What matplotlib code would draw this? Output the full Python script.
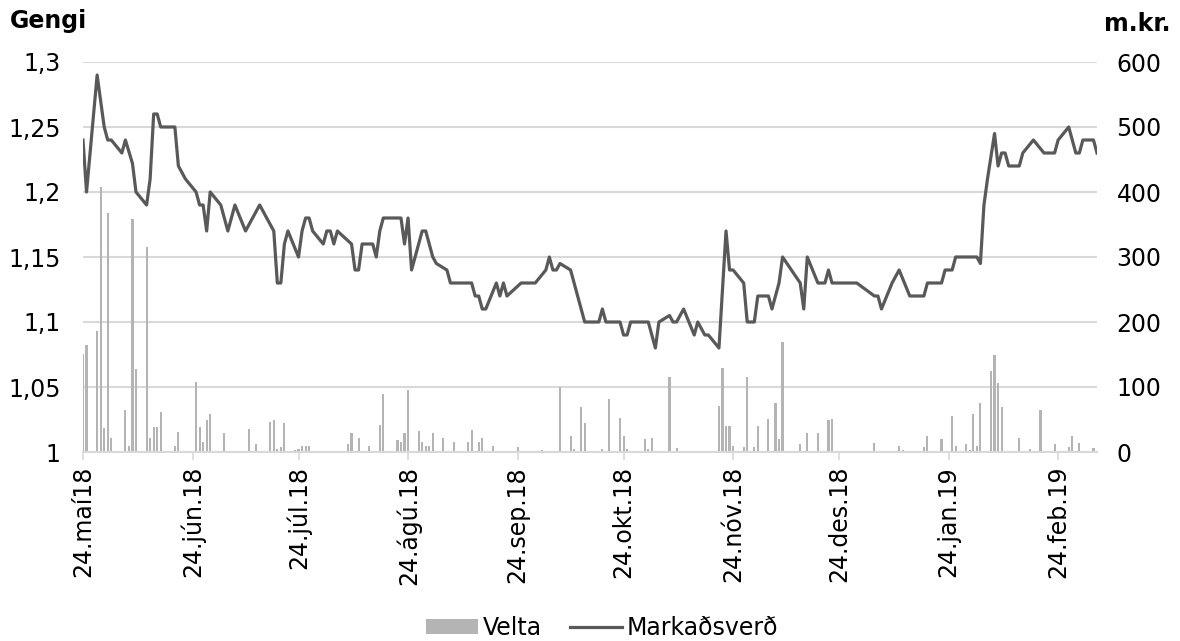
import numpy as np
import pandas as pd
import matplotlib
matplotlib.use("Agg")
import matplotlib.pyplot as plt
from matplotlib.patches import Patch
from matplotlib.lines import Line2D

# ── Data ──────────────────────────────────────────────────────
START = pd.Timestamp("2018-05-24")

# Markaðsverð (gengi), days counted from 24 May 2018
price_days = [0, 1, 4, 6, 7, 8, 11, 12, 14, 15, 18, 19, 20, 21, 22, 26, 27, 29,
              32, 33, 34, 35, 36, 39, 41, 43, 46, 48, 50, 54, 55, 56, 57, 58,
              61, 62, 63, 64, 65, 68, 69, 70, 71, 72, 76, 77, 78, 79, 82, 83,
              84, 85, 90, 91, 92, 93, 96, 97, 99, 100, 103, 104, 110, 111, 112,
              113, 114, 117, 118, 119, 120, 124, 128, 131, 132, 133, 134, 135,
              138, 142, 146, 147, 148, 152, 153, 154, 155, 160, 162, 163, 166,
              167, 168, 170, 173, 174, 176, 177, 180, 182, 183, 184, 187, 188,
              190, 191, 194, 195, 197, 198, 203, 204, 205, 208, 210, 211, 212,
              219, 224, 225, 226, 229, 231, 234, 238, 239, 243, 244, 246, 247,
              253, 254, 255, 256, 258, 259, 260, 261, 262, 265, 266, 269, 272,
              275, 276, 279, 281, 282, 283, 286, 287]
price = [1.24, 1.20, 1.29, 1.25, 1.24, 1.24, 1.23, 1.24, 1.222, 1.20, 1.19, 1.21,
         1.26, 1.26, 1.25, 1.25, 1.22, 1.21, 1.20, 1.19, 1.19, 1.17, 1.20, 1.19,
         1.17, 1.19, 1.17, 1.18, 1.19, 1.17, 1.13, 1.13, 1.16, 1.17, 1.15, 1.17,
         1.18, 1.18, 1.17, 1.16, 1.17, 1.17, 1.16, 1.17, 1.16, 1.14, 1.14, 1.16,
         1.16, 1.15, 1.17, 1.18, 1.18, 1.16, 1.18, 1.14, 1.17, 1.17, 1.15, 1.145,
         1.14, 1.13, 1.13, 1.12, 1.12, 1.11, 1.11, 1.13, 1.12, 1.13, 1.12, 1.13,
         1.13, 1.14, 1.15, 1.14, 1.14, 1.145, 1.14, 1.10, 1.10, 1.11, 1.10, 1.10,
         1.09, 1.09, 1.10, 1.10, 1.08, 1.10, 1.105, 1.10, 1.10, 1.11, 1.09, 1.10,
         1.09, 1.09, 1.08, 1.17, 1.14, 1.14, 1.13, 1.10, 1.10, 1.12, 1.12, 1.11,
         1.13, 1.15, 1.13, 1.11, 1.15, 1.13, 1.13, 1.14, 1.13, 1.13, 1.12, 1.12,
         1.11, 1.13, 1.14, 1.12, 1.12, 1.13, 1.13, 1.14, 1.14, 1.15, 1.15, 1.145,
         1.19, 1.21, 1.245, 1.22, 1.23, 1.23, 1.22, 1.22, 1.23, 1.24, 1.23, 1.23,
         1.24, 1.25, 1.23, 1.23, 1.24, 1.24, 1.23]

# Velta (m.kr.)
vol_days = [0, 1, 4, 5, 6, 7, 8, 11, 12, 13, 14, 15, 18, 19, 20, 21, 22, 25, 26,
            27, 32, 33, 34, 35, 36, 40, 47, 49, 53, 54, 55, 56, 57, 60, 61, 62,
            63, 64, 67, 75, 76, 78, 81, 84, 85, 89, 90, 91, 92, 95, 96, 97, 98,
            99, 102, 105, 109, 110, 112, 113, 116, 123, 130, 135, 138, 139, 141,
            142, 147, 149, 152, 153, 154, 156, 159, 160, 161, 166, 168, 176, 180,
            181, 182, 183, 184, 187, 188, 190, 191, 194, 196, 197, 198, 203, 204,
            205, 208, 209, 211, 212, 224, 231, 232, 238, 239, 243, 246, 247, 250,
            251, 252, 253, 254, 257, 258, 259, 260, 265, 268, 271, 274, 275, 279,
            280, 282, 286]
volume = [151, 164, 186, 407, 37, 367, 21, 2, 65, 10, 359, 127, 316, 22, 39, 39,
          61, 1, 9, 31, 107, 38, 15, 50, 59, 29, 36, 13, 46, 50, 5, 8, 45, 3, 5,
          9, 9, 9, 1, 12, 30, 22, 9, 41, 90, 19, 15, 30, 95, 32, 15, 9, 10, 29,
          21, 15, 15, 34, 15, 22, 10, 8, 3, 100, 24, 4, 69, 45, 4, 81, 53, 25, 4,
          1, 20, 4, 22, 116, 6, 2, 71, 130, 40, 40, 9, 8, 115, 8, 40, 51, 75, 20,
          169, 13, 1, 30, 30, 1, 49, 51, 14, 9, 3, 8, 25, 20, 55, 9, 12, 3, 59, 9,
          75, 125, 150, 106, 69, 21, 4, 65, 1, 13, 8, 25, 14, 6]

tick_dates = ["2018-05-24", "2018-06-24", "2018-07-24", "2018-08-24", "2018-09-24",
              "2018-10-24", "2018-11-24", "2018-12-24", "2019-01-24", "2019-02-24"]
tick_labels = ["24.maí18", "24.jún.18", "24.júl.18", "24.ágú.18", "24.sep.18",
               "24.okt.18", "24.nóv.18", "24.des.18", "24.jan.19", "24.feb.19"]

LINE_C = "#595959"
BAR_C = "#b4b4b4"
GRID_C = "#d9d9d9"
FS = 17

plt.rcParams["font.family"] = ["DejaVu Sans"]

price_x = START + pd.to_timedelta(price_days, unit="D")
vol_x = START + pd.to_timedelta(vol_days, unit="D")

fig = plt.figure(figsize=(11.8, 6.41), dpi=100)
ax = fig.add_axes([83 / 1180, 1 - 452 / 641, (1097 - 83) / 1180, 390 / 641])
ax2 = ax.twinx()

# bars on the secondary axis, kept behind the line
ax2.bar(vol_x, volume, width=0.6, color=BAR_C, zorder=2)
ax2.set_ylim(0, 600)
ax2.set_yticks(np.arange(0, 601, 100))
ax2.yaxis.grid(True, color=GRID_C, lw=1.5, zorder=0)
ax2.set_axisbelow(True)

ax.plot(price_x, price, color=LINE_C, lw=2.3, zorder=3)
ax.set_ylim(1.0, 1.3)
ax.set_yticks([1.0, 1.05, 1.1, 1.15, 1.2, 1.25, 1.3])
ax.set_yticklabels(["1", "1,05", "1,1", "1,15", "1,2", "1,25", "1,3"])
ax.set_zorder(ax2.get_zorder() + 1)
ax.patch.set_visible(False)

ax.set_xlim(START, START + pd.Timedelta(days=287))
ax.set_xticks(pd.to_datetime(tick_dates))
ax.set_xticklabels(tick_labels, rotation=90)

for a in (ax, ax2):
    for s in a.spines.values():
        s.set_visible(False)
ax.spines["bottom"].set_visible(True)
ax.spines["bottom"].set_color(GRID_C)
ax.spines["bottom"].set_linewidth(1.5)

ax.tick_params(axis="y", length=0, pad=16, labelsize=FS, colors="black")
ax2.tick_params(axis="y", length=0, pad=14, labelsize=FS, colors="black")
ax.tick_params(axis="x", length=6, width=1.2, color=GRID_C, pad=4, labelsize=FS)

# axis titles
fig.text(10 / 1180, 1 - 9 / 641, "Gengi", fontsize=FS, fontweight="bold",
         ha="left", va="top")
fig.text(1170 / 1180, 1 - 12 / 641, "m.kr.", fontsize=FS, fontweight="bold",
         ha="right", va="top")

handles = [Patch(facecolor=BAR_C, edgecolor="none"),
           Line2D([0], [0], color=LINE_C, lw=2.3)]
fig.legend(handles, ["Velta", "Markaðsverð"], loc="center", ncol=2,
           bbox_to_anchor=(0.51, 0.02), frameon=False, fontsize=FS,
           handlelength=2.2, handleheight=0.6, handletextpad=0.2,
           columnspacing=1.2, borderpad=0.1)

fig.savefig("out.png", dpi=100)
